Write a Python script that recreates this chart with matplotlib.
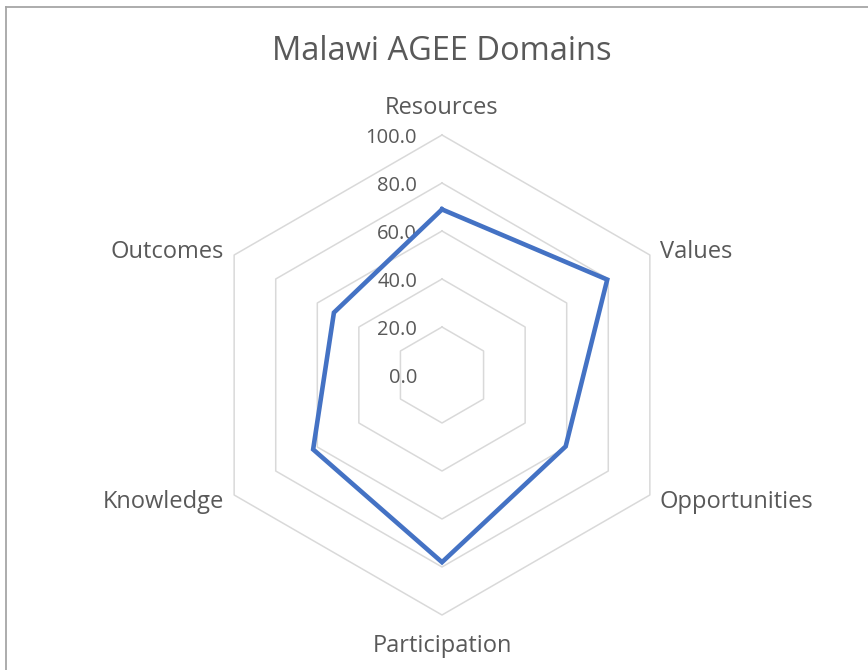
import numpy as np
import matplotlib
matplotlib.use("Agg")
import matplotlib.pyplot as plt
from matplotlib.lines import Line2D

# data
categories = ["Resources", "Values", "Opportunities", "Participation", "Knowledge", "Outcomes"]
scores = [69.0, 79.5, 59.5, 78.0, 62.0, 52.0]
levels = [0, 20, 40, 60, 80, 100]
level_labels = ["0.0", "20.0", "40.0", "60.0", "80.0", "100.0"]

plt.rcParams['font.family'] = ['Open Sans', 'DejaVu Sans']
text_col = "#595959"
grid_col = "#d9d9d9"
line_col = "#4472c4"

W, H = 868, 670
fig = plt.figure(figsize=(W / 100, H / 100), dpi=100)

# centre of the web in pixels, and pixels per unit
cx, cy, ppu = 442, 375, 2.4
half = 300
ax = fig.add_axes([(cx - half) / W, (H - cy - half) / H, 2 * half / W, 2 * half / H])
lim = half / ppu
ax.set_xlim(-lim, lim)
ax.set_ylim(-lim, lim)
ax.axis("off")

n = len(categories)
ang = np.arange(n) * 2 * np.pi / n
sx, sy = np.sin(ang), np.cos(ang)

# hexagonal gridlines (no spokes in the original)
for lv in levels[1:]:
    ax.plot(np.append(sx, sx[0]) * lv, np.append(sy, sy[0]) * lv, color=grid_col, lw=1.1, zorder=1)

# series
vals = np.array(scores)
ax.plot(np.append(sx * vals, sx[0] * vals[0]), np.append(sy * vals, sy[0] * vals[0]),
        color=line_col, lw=3.3, solid_joinstyle="miter", zorder=3)

# category labels
for i, name in enumerate(categories):
    x, y = sx[i] * 100, sy[i] * 100
    if abs(sx[i]) < 1e-6:
        ax.text(x, y + 12 * np.sign(sy[i]) - 0.8, name, ha="center", va="center",
                fontsize=17, color=text_col, clip_on=False)
    else:
        ax.text(x + 4.2 * np.sign(sx[i]), y + 2 * np.sign(sy[i]) - 0.8, name,
                ha="left" if sx[i] > 0 else "right", va="center",
                fontsize=17, color=text_col, clip_on=False)

# value axis labels
for lv, lab in zip(levels, level_labels):
    ax.text(-10.4, lv - 1.2, lab, ha="right", va="center", fontsize=14.5, color=text_col, zorder=2)

fig.text(cx / W, 1 - 52 / H, "Malawi AGEE Domains", ha="center", va="center",
         fontsize=23.5, color=text_col)

# chart border (only left and top visible in the crop)
fig.add_artist(Line2D([6 / W, 6 / W], [0, 1 - 7 / H], color="#a6a6a6", lw=1.3, transform=fig.transFigure))
fig.add_artist(Line2D([6 / W, 1], [1 - 7 / H, 1 - 7 / H], color="#a6a6a6", lw=1.3, transform=fig.transFigure))

fig.savefig("out.png", dpi=100, facecolor="white")
